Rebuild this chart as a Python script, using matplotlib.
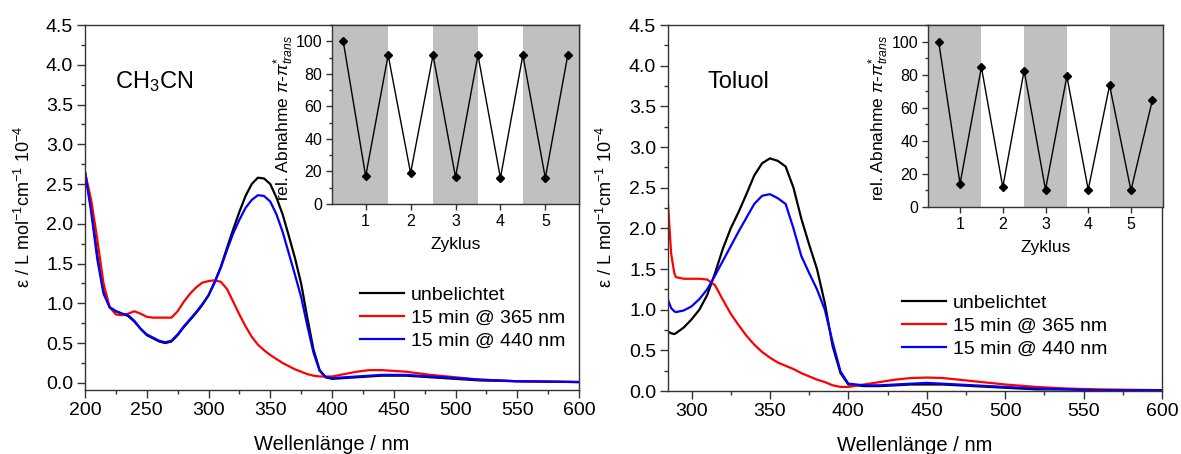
import matplotlib
matplotlib.use("Agg")
import matplotlib.pyplot as plt
from matplotlib.ticker import MultipleLocator

plt.rcParams['font.family'] = ['Liberation Sans', 'DejaVu Sans']
plt.rcParams['mathtext.fontset'] = 'custom'
plt.rcParams['mathtext.rm'] = 'Liberation Sans'
plt.rcParams['mathtext.it'] = 'Liberation Sans:italic'
plt.rcParams['mathtext.bf'] = 'Liberation Sans:bold'

# ---------------- data ----------------
labels = ["unbelichtet", "15 min @ 365 nm", "15 min @ 440 nm"]

wl_acn = [200, 205, 210, 215, 220, 225, 230, 235, 240, 245, 250, 255, 260, 265, 270,
          275, 280, 285, 290, 295, 300, 305, 310, 315, 320, 325, 330, 335, 340, 345,
          350, 355, 360, 365, 370, 375, 380, 385, 390, 395, 400,
          410, 420, 430, 440, 450, 460, 470, 480, 500, 520, 550, 600]
acn_dark = [2.65, 2.2, 1.6, 1.15, 0.95, 0.9, 0.87, 0.84, 0.77, 0.68, 0.60, 0.56, 0.52, 0.50, 0.52,
            0.60, 0.70, 0.79, 0.88, 0.98, 1.10, 1.27, 1.46, 1.70, 1.93, 2.15, 2.35, 2.50, 2.58, 2.57,
            2.50, 2.33, 2.12, 1.85, 1.57, 1.25, 0.82, 0.42, 0.16, 0.07, 0.05,
            0.06, 0.07, 0.08, 0.09, 0.09, 0.09, 0.08, 0.07, 0.05, 0.03, 0.02, 0.01]
acn_365 = [2.65, 2.3, 1.8, 1.25, 0.95, 0.86, 0.85, 0.87, 0.90, 0.87, 0.83, 0.82, 0.82, 0.82, 0.82,
           0.90, 1.02, 1.12, 1.20, 1.26, 1.28, 1.29, 1.27, 1.18, 1.02, 0.86, 0.71, 0.58, 0.48, 0.41,
           0.35, 0.30, 0.25, 0.21, 0.17, 0.14, 0.11, 0.09, 0.08, 0.08, 0.08,
           0.11, 0.14, 0.16, 0.16, 0.15, 0.14, 0.12, 0.10, 0.07, 0.04, 0.02, 0.01]
acn_440 = [2.65, 2.15, 1.55, 1.12, 0.95, 0.90, 0.87, 0.85, 0.78, 0.68, 0.61, 0.57, 0.53, 0.51, 0.53,
           0.61, 0.71, 0.80, 0.89, 0.99, 1.10, 1.26, 1.45, 1.67, 1.88, 2.05, 2.20, 2.30, 2.36, 2.35,
           2.28, 2.12, 1.90, 1.63, 1.36, 1.08, 0.72, 0.38, 0.15, 0.07, 0.06,
           0.07, 0.08, 0.09, 0.10, 0.10, 0.10, 0.09, 0.08, 0.06, 0.04, 0.02, 0.01]

wl_tol = [285, 287, 289, 290, 295, 300, 305, 310, 315, 320, 325, 330, 335, 340, 345,
          350, 355, 360, 365, 370, 375, 380, 385, 390, 395, 400,
          410, 420, 430, 440, 450, 460, 470, 480, 500, 520, 540, 560, 600]
tol_dark = [0.73, 0.71, 0.70, 0.71, 0.78, 0.88, 1.00, 1.18, 1.45, 1.75, 2.00, 2.20, 2.42, 2.65, 2.80,
            2.86, 2.83, 2.76, 2.50, 2.12, 1.80, 1.50, 1.08, 0.55, 0.22, 0.08,
            0.06, 0.06, 0.07, 0.08, 0.08, 0.08, 0.07, 0.06, 0.04, 0.02, 0.02, 0.01, 0.01]
tol_365 = [2.30, 1.69, 1.45, 1.40, 1.38, 1.38, 1.38, 1.37, 1.30, 1.12, 0.95, 0.81, 0.68, 0.57, 0.48,
           0.41, 0.35, 0.31, 0.27, 0.22, 0.18, 0.14, 0.11, 0.07, 0.05, 0.05,
           0.08, 0.11, 0.14, 0.16, 0.165, 0.16, 0.14, 0.12, 0.08, 0.05, 0.03, 0.02, 0.01]
tol_440 = [1.12, 1.02, 0.98, 0.97, 0.99, 1.04, 1.13, 1.25, 1.42, 1.60, 1.78, 1.96, 2.13, 2.30, 2.40,
           2.42, 2.37, 2.30, 2.00, 1.66, 1.45, 1.25, 1.00, 0.60, 0.24, 0.09,
           0.07, 0.07, 0.08, 0.09, 0.10, 0.09, 0.08, 0.07, 0.05, 0.03, 0.02, 0.01, 0.01]

cycle_x = [0.5, 1, 1.5, 2, 2.5, 3, 3.5, 4, 4.5, 5, 5.5]
cycle_acn = [100, 17, 91.5, 19, 91.5, 16.5, 91.5, 16, 91.5, 16, 91.5]
cycle_tol = [100, 14, 84.5, 12, 82.5, 10.5, 79, 10.5, 73.5, 10, 64.5]
cycle_ticks = [1, 2, 3, 4, 5]
gray_bands = [(0.25, 1.5), (2.5, 3.5), (4.5, 5.75)]

colors = ["black", "#ff0000", "#0000ff"]

# ---------------- figure ----------------
W, H = 1181, 454
fig = plt.figure(figsize=(W / 100, H / 100), dpi=100)


def px_axes(x0, y0, x1, y1):
    return fig.add_axes([x0 / W, (H - y1) / H, (x1 - x0) / W, (y1 - y0) / H])


spine_col = "#333333"


def style(ax, fs, major, minor):
    for s in ax.spines.values():
        s.set_color(spine_col)
        s.set_linewidth(1.0)
    ax.tick_params(which="both", direction="out", colors=spine_col,
                   labelcolor="black", top=False, right=False, width=1.0)
    ax.tick_params(which="major", length=major, labelsize=fs, pad=3)
    ax.tick_params(which="minor", length=minor)


ylab = r"ε / L mol$^{-1}$cm$^{-1}$ 10$^{-4}$"
inset_ylab = r"rel. Abnahme $\pi$-$\pi^{*}_{\mathit{trans}}$"

panels = [
    dict(box=(85, 25, 579, 390), wl=wl_acn, ys=(acn_dark, acn_365, acn_440),
         xlim=(200, 600), ylim=(-0.09, 4.5), title=r"CH$_3$CN", tpos=(115, 82),
         ylx=34, leg=(360, 286),
         ibox=(332, 25, 579, 204), cyc=cycle_acn, ilx=296),
    dict(box=(668, 25, 1162, 391), wl=wl_tol, ys=(tol_dark, tol_365, tol_440),
         xlim=(285, 600), ylim=(0, 4.5), title="Toluol", tpos=(707, 82),
         ylx=616, leg=(902, 294),
         ibox=(928, 25, 1163, 207), cyc=cycle_tol, ilx=891),
]

for p in panels:
    ax = px_axes(*p["box"])
    for y, c, lab in zip(p["ys"], colors, labels):
        ax.plot(p["wl"], y, color=c, lw=1.6, label=lab)
    ax.set_xlim(*p["xlim"])
    ax.set_ylim(*p["ylim"])
    ax.xaxis.set_major_locator(MultipleLocator(50))
    ax.xaxis.set_minor_locator(MultipleLocator(25))
    ax.yaxis.set_major_locator(MultipleLocator(0.5))
    ax.yaxis.set_minor_locator(MultipleLocator(0.25))
    ax.yaxis.set_major_formatter(matplotlib.ticker.FormatStrFormatter("%.1f"))
    style(ax, 14, 5.5, 3)
    ax.set_xlabel("Wellenlänge / nm", fontsize=14.5, labelpad=12)
    ax.set_ylabel(ylab, fontsize=13)
    ax.yaxis.set_label_coords(p["ylx"] / W, (H - 207) / H, transform=fig.transFigure)
    fig.text(p["tpos"][0] / W, (H - p["tpos"][1]) / H, p["title"], fontsize=17,
             ha="left", va="center")
    ax.legend(loc="upper left", bbox_to_anchor=(p["leg"][0] / W, (H - p["leg"][1]) / H),
              bbox_transform=fig.transFigure, frameon=False, fontsize=14,
              handlelength=2.25, handletextpad=0.35, labelspacing=0.28,
              borderpad=0, borderaxespad=0)

    ia = px_axes(*p["ibox"])
    for a, b in gray_bands:
        ia.axvspan(a, b, color="#c0c0c0", lw=0, zorder=0)
    ia.plot(cycle_x, p["cyc"], color="black", lw=1.0, marker="D", ms=4.2,
            mfc="black", mec="black", zorder=3)
    ia.set_xlim(0.25, 5.75)
    ia.set_ylim(0, 110)
    ia.set_xticks(cycle_ticks)
    ia.yaxis.set_major_locator(MultipleLocator(20))
    ia.yaxis.set_minor_locator(MultipleLocator(10))
    style(ia, 11.5, 4, 2.5)
    ia.set_xlabel("Zyklus", fontsize=12.5, labelpad=6)
    ia.set_ylabel(inset_ylab, fontsize=12.5, labelpad=2)
    ia.yaxis.set_label_coords(p["ilx"] / W, (H - 118) / H, transform=fig.transFigure)

fig.savefig("out.png", dpi=100)
